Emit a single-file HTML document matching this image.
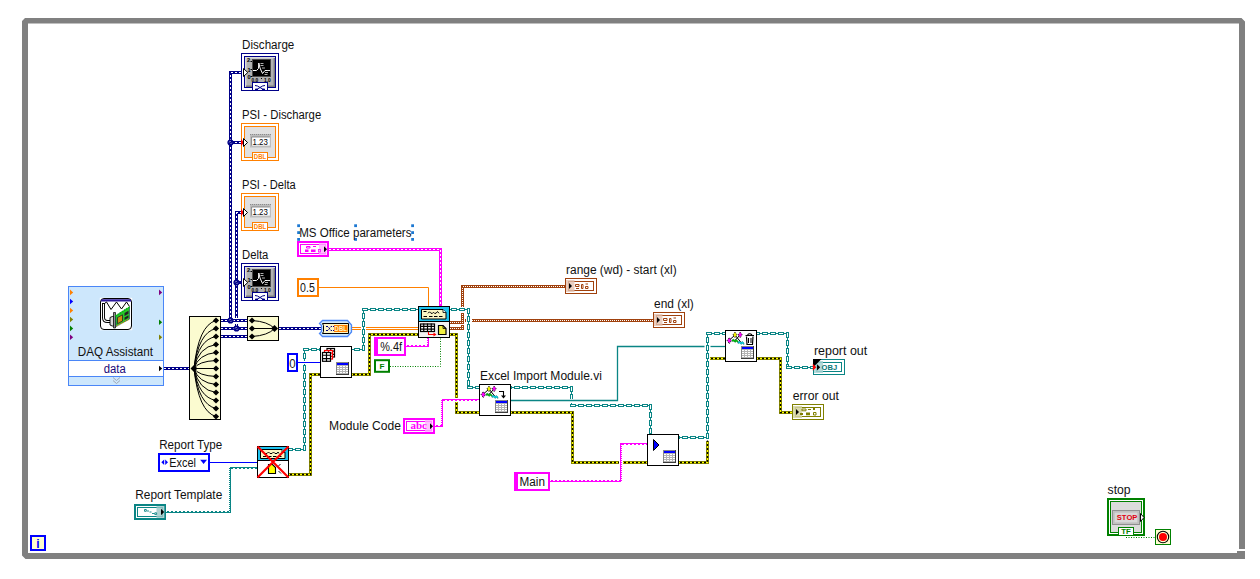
<!DOCTYPE html>
<html><head><meta charset="utf-8"><title>Block Diagram</title>
<style>
html,body{margin:0;padding:0;background:#fff;}
body{width:1260px;height:579px;overflow:hidden;font-family:"Liberation Sans",sans-serif;}
svg{display:block}
</style></head><body>
<svg width="1260" height="579" viewBox="0 0 1260 579">
<rect width="1260" height="579" fill="#fff"/>
<path d="M25,18 L1241.500,18 L1245,21.500 L1245,549 L1239,549 L1239,23.500 L28,23.500 L28,553 L1237,553 L1237,551 L1245,551 L1245,559 L25.500,559 L22,555.500 L22,21 Z" fill="#808080"/>
<polyline points="164,368.5 190,368.5" fill="none" stroke="#000088" stroke-width="3" shape-rendering="crispEdges"/>
<polyline points="164,368.5 190,368.5" fill="none" stroke="#fff" stroke-width="1" stroke-dasharray="2 2" stroke-dashoffset="0" shape-rendering="crispEdges"/>
<polyline points="221,320.5 247,320.5" fill="none" stroke="#000088" stroke-width="3" shape-rendering="crispEdges"/>
<polyline points="221,320.5 247,320.5" fill="none" stroke="#fff" stroke-width="1" stroke-dasharray="2 2" stroke-dashoffset="0" shape-rendering="crispEdges"/>
<polyline points="221,328.5 247,328.5" fill="none" stroke="#000088" stroke-width="3" shape-rendering="crispEdges"/>
<polyline points="221,328.5 247,328.5" fill="none" stroke="#fff" stroke-width="1" stroke-dasharray="2 2" stroke-dashoffset="0" shape-rendering="crispEdges"/>
<polyline points="221,336.5 247,336.5" fill="none" stroke="#000088" stroke-width="3" shape-rendering="crispEdges"/>
<polyline points="221,336.5 247,336.5" fill="none" stroke="#fff" stroke-width="1" stroke-dasharray="2 2" stroke-dashoffset="0" shape-rendering="crispEdges"/>
<polyline points="279,328.5 321,328.5" fill="none" stroke="#000088" stroke-width="3" shape-rendering="crispEdges"/>
<polyline points="279,328.5 321,328.5" fill="none" stroke="#fff" stroke-width="1" stroke-dasharray="2 2" stroke-dashoffset="0" shape-rendering="crispEdges"/>
<polyline points="230.5,320.5 230.5,72.5 244,72.5" fill="none" stroke="#000088" stroke-width="3" shape-rendering="crispEdges"/>
<polyline points="230.5,320.5 230.5,72.5 244,72.5" fill="none" stroke="#fff" stroke-width="1" stroke-dasharray="2 2" stroke-dashoffset="0" shape-rendering="crispEdges"/>
<polyline points="230.5,142.5 243,142.5" fill="none" stroke="#000088" stroke-width="3" shape-rendering="crispEdges"/>
<polyline points="230.5,142.5 243,142.5" fill="none" stroke="#fff" stroke-width="1" stroke-dasharray="2 2" stroke-dashoffset="0" shape-rendering="crispEdges"/>
<polyline points="236.5,317.5 236.5,212.5 243,212.5" fill="none" stroke="#000088" stroke-width="3" shape-rendering="crispEdges"/>
<polyline points="236.5,317.5 236.5,212.5 243,212.5" fill="none" stroke="#fff" stroke-width="1" stroke-dasharray="2 2" stroke-dashoffset="0" shape-rendering="crispEdges"/>
<polyline points="236.5,323.5 236.5,328.5" fill="none" stroke="#000088" stroke-width="3" shape-rendering="crispEdges"/>
<polyline points="236.5,323.5 236.5,328.5" fill="none" stroke="#fff" stroke-width="1" stroke-dasharray="2 2" stroke-dashoffset="0" shape-rendering="crispEdges"/>
<polyline points="236.5,282.5 244,282.5" fill="none" stroke="#000088" stroke-width="3" shape-rendering="crispEdges"/>
<polyline points="236.5,282.5 244,282.5" fill="none" stroke="#fff" stroke-width="1" stroke-dasharray="2 2" stroke-dashoffset="0" shape-rendering="crispEdges"/>
<circle cx="230.5" cy="142.5" r="3.1" fill="#000088"/><path d="M229.3,142.3 l1.200,-1.200 M230.8,143.7 l.9,-.9" stroke="#fff" stroke-width=".9"/>
<circle cx="230.5" cy="320.5" r="3.1" fill="#000088"/><path d="M229.3,320.3 l1.200,-1.200 M230.8,321.7 l.9,-.9" stroke="#fff" stroke-width=".9"/>
<circle cx="236.5" cy="282.5" r="3.1" fill="#000088"/><path d="M235.3,282.3 l1.200,-1.200 M236.8,283.7 l.9,-.9" stroke="#fff" stroke-width=".9"/>
<circle cx="236.5" cy="328.5" r="3.1" fill="#000088"/><path d="M235.3,328.3 l1.200,-1.200 M236.8,329.7 l.9,-.9" stroke="#fff" stroke-width=".9"/>
<polyline points="318,287.5 428.5,287.5 428.5,306" fill="none" stroke="#ff8000" stroke-width="1" />
<polyline points="352,327.5 361,327.5" fill="none" stroke="#ff8000" stroke-width="1" />
<polyline points="352,329.5 361,329.5" fill="none" stroke="#ff8000" stroke-width="1" />
<polyline points="366,327.5 418,327.5" fill="none" stroke="#ff8000" stroke-width="1" />
<polyline points="366,329.5 418,329.5" fill="none" stroke="#ff8000" stroke-width="1" />
<polyline points="329,249.5 440.5,249.5 440.5,306" fill="none" stroke="#ff00ff" stroke-width="3" shape-rendering="crispEdges"/>
<polyline points="329,249.5 440.5,249.5 440.5,306" fill="none" stroke="#fff" stroke-width="1" stroke-dasharray="2 2" stroke-dashoffset="0" shape-rendering="crispEdges"/>
<path d="M406,346.5H428M407,345.5h2M411,345.5h2M415,345.5h2M419,345.5h2M423,345.5h2M427,345.5h1M428.5,337V347M427.5,338v1M427.5,340v1M427.5,342v1M427.5,344v1" fill="none" stroke="#ff00ff" stroke-width="1" shape-rendering="crispEdges"/>
<path d="M435,426.5H442M436,425.5h2M440,425.5h2M442.5,399V427M441.5,400v1M441.5,402v1M441.5,404v1M441.5,406v1M441.5,408v1M441.5,410v1M441.5,412v1M441.5,414v1M441.5,416v1M441.5,418v1M441.5,420v1M441.5,422v1M441.5,424v1M442,399.5H479M443,400.5h2M447,400.5h2M451,400.5h2M455,400.5h2M459,400.5h2M463,400.5h2M467,400.5h2M471,400.5h2M475,400.5h2" fill="none" stroke="#ff00ff" stroke-width="1" shape-rendering="crispEdges"/>
<path d="M550,481.5H621M551,480.5h2M555,480.5h2M559,480.5h2M563,480.5h2M567,480.5h2M571,480.5h2M575,480.5h2M579,480.5h2M583,480.5h2M587,480.5h2M591,480.5h2M595,480.5h2M599,480.5h2M603,480.5h2M607,480.5h2M611,480.5h2M615,480.5h2M619,480.5h2M620.5,443V482M621.5,444v1M621.5,446v1M621.5,448v1M621.5,450v1M621.5,452v1M621.5,454v1M621.5,456v1M621.5,458v1M621.5,460v1M621.5,462v1M621.5,464v1M621.5,466v1M621.5,468v1M621.5,470v1M621.5,472v1M621.5,474v1M621.5,476v1M621.5,478v1M621.5,480v1M621,443.5H647M622,444.5h2M626,444.5h2M630,444.5h2M634,444.5h2M638,444.5h2M642,444.5h2M646,444.5h1" fill="none" stroke="#ff00ff" stroke-width="1" shape-rendering="crispEdges"/>
<path d="M166,512.5H230M167,511.5h2M171,511.5h2M175,511.5h2M179,511.5h2M183,511.5h2M187,511.5h2M191,511.5h2M195,511.5h2M199,511.5h2M203,511.5h2M207,511.5h2M211,511.5h2M215,511.5h2M219,511.5h2M223,511.5h2M227,511.5h2M230.5,467V513M229.5,468v1M229.5,470v1M229.5,472v1M229.5,474v1M229.5,476v1M229.5,478v1M229.5,480v1M229.5,482v1M229.5,484v1M229.5,486v1M229.5,488v1M229.5,490v1M229.5,492v1M229.5,494v1M229.5,496v1M229.5,498v1M229.5,500v1M229.5,502v1M229.5,504v1M229.5,506v1M229.5,508v1M229.5,510v1M230,467.5H257M231,468.5h2M235,468.5h2M239,468.5h2M243,468.5h2M247,468.5h2M251,468.5h2M255,468.5h2" fill="none" stroke="#0a8585" stroke-width="1" shape-rendering="crispEdges"/>
<polyline points="390,366.5 440.5,366.5 440.5,338" fill="none" stroke="#008000" stroke-width="1" stroke-dasharray="1 1.5" stroke-dashoffset="0" />
<polyline points="1126,537.5 1155,537.5" fill="none" stroke="#008000" stroke-width="1" stroke-dasharray="1 1.5" stroke-dashoffset="0" />
<polyline points="298,362.5 320,362.5" fill="none" stroke="#0000ff" stroke-width="1" />
<polyline points="210,462.5 257,462.5" fill="none" stroke="#0000ff" stroke-width="1" />
<polyline points="511,400.5 617.5,400.5 617.5,346.5 704.5,346.5" fill="none" stroke="#0a8585" stroke-width="1.3" />
<polyline points="710.5,346.5 725,346.5" fill="none" stroke="#0a8585" stroke-width="1.3" />
<polyline points="450,328.5 462.5,328.5 462.5,325" fill="none" stroke="#a0410d" stroke-width="3" shape-rendering="crispEdges"/>
<polyline points="450,328.5 462.5,328.5 462.5,325" fill="none" stroke="#fff" stroke-width="1" stroke-dasharray="1 1" stroke-dashoffset="0" shape-rendering="crispEdges"/>
<polyline points="450,322.5 462.5,322.5 462.5,312.5" fill="none" stroke="#a0410d" stroke-width="3" shape-rendering="crispEdges"/>
<polyline points="450,322.5 462.5,322.5 462.5,312.5" fill="none" stroke="#fff" stroke-width="1" stroke-dasharray="1 1" stroke-dashoffset="0" shape-rendering="crispEdges"/>
<polyline points="462.5,306.5 462.5,286.5 565,286.5" fill="none" stroke="#a0410d" stroke-width="3" shape-rendering="crispEdges"/>
<polyline points="462.5,306.5 462.5,286.5 565,286.5" fill="none" stroke="#fff" stroke-width="1" stroke-dasharray="1 1" stroke-dashoffset="0" shape-rendering="crispEdges"/>
<polyline points="471.5,320.5 653,320.5" fill="none" stroke="#a0410d" stroke-width="3" shape-rendering="crispEdges"/>
<polyline points="471.5,320.5 653,320.5" fill="none" stroke="#fff" stroke-width="1" stroke-dasharray="1 1" stroke-dashoffset="0" shape-rendering="crispEdges"/>
<polyline points="465.5,319 465.5,322" fill="none" stroke="#a0410d" stroke-width="1" />
<polyline points="289,474.5 310.5,474.5 310.5,374.5 320,374.5" fill="none" stroke="#8a8a00" stroke-width="3" shape-rendering="crispEdges"/>
<polyline points="289,474.5 310.5,474.5 310.5,374.5 320,374.5" fill="none" stroke="#000" stroke-width="1.3" />
<polyline points="289,474.5 310.5,474.5 310.5,374.5 320,374.5" fill="none" stroke="#ffff00" stroke-width="1.3" stroke-dasharray="2 2" stroke-dashoffset="1" />
<polyline points="352,374.5 369.5,374.5 369.5,334.5 418,334.5" fill="none" stroke="#8a8a00" stroke-width="3" shape-rendering="crispEdges"/>
<polyline points="352,374.5 369.5,374.5 369.5,334.5 418,334.5" fill="none" stroke="#000" stroke-width="1.3" />
<polyline points="352,374.5 369.5,374.5 369.5,334.5 418,334.5" fill="none" stroke="#ffff00" stroke-width="1.3" stroke-dasharray="2 2" stroke-dashoffset="1" />
<polyline points="450,334.5 456.5,334.5 456.5,397.5" fill="none" stroke="#8a8a00" stroke-width="3" shape-rendering="crispEdges"/>
<polyline points="450,334.5 456.5,334.5 456.5,397.5" fill="none" stroke="#000" stroke-width="1.3" />
<polyline points="450,334.5 456.5,334.5 456.5,397.5" fill="none" stroke="#ffff00" stroke-width="1.3" stroke-dasharray="2 2" stroke-dashoffset="1" />
<polyline points="456.5,402 456.5,412.5 479,412.5" fill="none" stroke="#8a8a00" stroke-width="3" shape-rendering="crispEdges"/>
<polyline points="456.5,402 456.5,412.5 479,412.5" fill="none" stroke="#000" stroke-width="1.3" />
<polyline points="456.5,402 456.5,412.5 479,412.5" fill="none" stroke="#ffff00" stroke-width="1.3" stroke-dasharray="2 2" stroke-dashoffset="1" />
<polyline points="511,412.5 572.5,412.5 572.5,462.5 619,462.5" fill="none" stroke="#8a8a00" stroke-width="3" shape-rendering="crispEdges"/>
<polyline points="511,412.5 572.5,412.5 572.5,462.5 619,462.5" fill="none" stroke="#000" stroke-width="1.3" />
<polyline points="511,412.5 572.5,412.5 572.5,462.5 619,462.5" fill="none" stroke="#ffff00" stroke-width="1.3" stroke-dasharray="2 2" stroke-dashoffset="1" />
<polyline points="623,462.5 647,462.5" fill="none" stroke="#8a8a00" stroke-width="3" shape-rendering="crispEdges"/>
<polyline points="623,462.5 647,462.5" fill="none" stroke="#000" stroke-width="1.3" />
<polyline points="623,462.5 647,462.5" fill="none" stroke="#ffff00" stroke-width="1.3" stroke-dasharray="2 2" stroke-dashoffset="1" />
<polyline points="679,462.5 707.5,462.5 707.5,440.5" fill="none" stroke="#8a8a00" stroke-width="3" shape-rendering="crispEdges"/>
<polyline points="679,462.5 707.5,462.5 707.5,440.5" fill="none" stroke="#000" stroke-width="1.3" />
<polyline points="679,462.5 707.5,462.5 707.5,440.5" fill="none" stroke="#ffff00" stroke-width="1.3" stroke-dasharray="2 2" stroke-dashoffset="1" />
<polyline points="710,358.5 725,358.5" fill="none" stroke="#8a8a00" stroke-width="3" shape-rendering="crispEdges"/>
<polyline points="710,358.5 725,358.5" fill="none" stroke="#000" stroke-width="1.3" />
<polyline points="710,358.5 725,358.5" fill="none" stroke="#ffff00" stroke-width="1.3" stroke-dasharray="2 2" stroke-dashoffset="1" />
<polyline points="757,358.5 780.5,358.5 780.5,412.5 792,412.5" fill="none" stroke="#8a8a00" stroke-width="3" shape-rendering="crispEdges"/>
<polyline points="757,358.5 780.5,358.5 780.5,412.5 792,412.5" fill="none" stroke="#000" stroke-width="1.3" />
<polyline points="757,358.5 780.5,358.5 780.5,412.5 792,412.5" fill="none" stroke="#ffff00" stroke-width="1.3" stroke-dasharray="2 2" stroke-dashoffset="1" />
<polyline points="289,449.5 303.0,449.5" fill="none" stroke="#0a8585" stroke-width="3" stroke-dasharray="6 2" stroke-dashoffset="2.0" shape-rendering="crispEdges"/>
<polyline points="289,449.5 303.0,449.5" fill="none" stroke="#0a8585" stroke-width="1" shape-rendering="crispEdges"/>
<polyline points="304.5,451.0 304.5,364" fill="none" stroke="#0a8585" stroke-width="3" stroke-dasharray="6 2" stroke-dashoffset="0" shape-rendering="crispEdges"/>
<polyline points="304.5,451.0 304.5,364" fill="none" stroke="#0a8585" stroke-width="1" shape-rendering="crispEdges"/>
<polyline points="289,449.5 303.0,449.5" fill="none" stroke="#fff" stroke-width="1" stroke-dasharray="4 4" stroke-dashoffset="1.0" shape-rendering="crispEdges"/>
<polyline points="304.5,451.0 304.5,364" fill="none" stroke="#fff" stroke-width="1" stroke-dasharray="4 4" stroke-dashoffset="-1" shape-rendering="crispEdges"/>
<polyline points="304.5,361 304.5,351.0" fill="none" stroke="#0a8585" stroke-width="3" stroke-dasharray="6 2" stroke-dashoffset="6.0" shape-rendering="crispEdges"/>
<polyline points="304.5,361 304.5,351.0" fill="none" stroke="#0a8585" stroke-width="1" shape-rendering="crispEdges"/>
<polyline points="303.0,349.5 320,349.5" fill="none" stroke="#0a8585" stroke-width="3" stroke-dasharray="6 2" stroke-dashoffset="0" shape-rendering="crispEdges"/>
<polyline points="303.0,349.5 320,349.5" fill="none" stroke="#0a8585" stroke-width="1" shape-rendering="crispEdges"/>
<polyline points="304.5,361 304.5,351.0" fill="none" stroke="#fff" stroke-width="1" stroke-dasharray="4 4" stroke-dashoffset="5.0" shape-rendering="crispEdges"/>
<polyline points="303.0,349.5 320,349.5" fill="none" stroke="#fff" stroke-width="1" stroke-dasharray="4 4" stroke-dashoffset="-1" shape-rendering="crispEdges"/>
<polyline points="352,349.5 362.0,349.5" fill="none" stroke="#0a8585" stroke-width="3" stroke-dasharray="6 2" stroke-dashoffset="6.0" shape-rendering="crispEdges"/>
<polyline points="352,349.5 362.0,349.5" fill="none" stroke="#0a8585" stroke-width="1" shape-rendering="crispEdges"/>
<polyline points="363.5,351.0 363.5,311.0" fill="none" stroke="#0a8585" stroke-width="3" stroke-dasharray="6 2" stroke-dashoffset="0" shape-rendering="crispEdges"/>
<polyline points="363.5,351.0 363.5,311.0" fill="none" stroke="#0a8585" stroke-width="1" shape-rendering="crispEdges"/>
<polyline points="362.0,309.5 418,309.5" fill="none" stroke="#0a8585" stroke-width="3" stroke-dasharray="6 2" stroke-dashoffset="0" shape-rendering="crispEdges"/>
<polyline points="362.0,309.5 418,309.5" fill="none" stroke="#0a8585" stroke-width="1" shape-rendering="crispEdges"/>
<polyline points="352,349.5 362.0,349.5" fill="none" stroke="#fff" stroke-width="1" stroke-dasharray="4 4" stroke-dashoffset="5.0" shape-rendering="crispEdges"/>
<polyline points="363.5,351.0 363.5,311.0" fill="none" stroke="#fff" stroke-width="1" stroke-dasharray="4 4" stroke-dashoffset="-1" shape-rendering="crispEdges"/>
<polyline points="362.0,309.5 418,309.5" fill="none" stroke="#fff" stroke-width="1" stroke-dasharray="4 4" stroke-dashoffset="-1" shape-rendering="crispEdges"/>
<polyline points="450,309.5 467.0,309.5" fill="none" stroke="#0a8585" stroke-width="3" stroke-dasharray="6 2" stroke-dashoffset="7.0" shape-rendering="crispEdges"/>
<polyline points="450,309.5 467.0,309.5" fill="none" stroke="#0a8585" stroke-width="1" shape-rendering="crispEdges"/>
<polyline points="468.5,308.0 468.5,386.0" fill="none" stroke="#0a8585" stroke-width="3" stroke-dasharray="6 2" stroke-dashoffset="0" shape-rendering="crispEdges"/>
<polyline points="468.5,308.0 468.5,386.0" fill="none" stroke="#0a8585" stroke-width="1" shape-rendering="crispEdges"/>
<polyline points="467.0,387.5 479,387.5" fill="none" stroke="#0a8585" stroke-width="3" stroke-dasharray="6 2" stroke-dashoffset="0" shape-rendering="crispEdges"/>
<polyline points="467.0,387.5 479,387.5" fill="none" stroke="#0a8585" stroke-width="1" shape-rendering="crispEdges"/>
<polyline points="450,309.5 467.0,309.5" fill="none" stroke="#fff" stroke-width="1" stroke-dasharray="4 4" stroke-dashoffset="6.0" shape-rendering="crispEdges"/>
<polyline points="468.5,308.0 468.5,386.0" fill="none" stroke="#fff" stroke-width="1" stroke-dasharray="4 4" stroke-dashoffset="-1" shape-rendering="crispEdges"/>
<polyline points="467.0,387.5 479,387.5" fill="none" stroke="#fff" stroke-width="1" stroke-dasharray="4 4" stroke-dashoffset="-1" shape-rendering="crispEdges"/>
<polyline points="511,387.5 570.0,387.5" fill="none" stroke="#0a8585" stroke-width="3" stroke-dasharray="6 2" stroke-dashoffset="5.0" shape-rendering="crispEdges"/>
<polyline points="511,387.5 570.0,387.5" fill="none" stroke="#0a8585" stroke-width="1" shape-rendering="crispEdges"/>
<polyline points="571.5,386.0 571.5,398.5" fill="none" stroke="#0a8585" stroke-width="3" stroke-dasharray="6 2" stroke-dashoffset="0" shape-rendering="crispEdges"/>
<polyline points="571.5,386.0 571.5,398.5" fill="none" stroke="#0a8585" stroke-width="1" shape-rendering="crispEdges"/>
<polyline points="511,387.5 570.0,387.5" fill="none" stroke="#fff" stroke-width="1" stroke-dasharray="4 4" stroke-dashoffset="4.0" shape-rendering="crispEdges"/>
<polyline points="571.5,386.0 571.5,398.5" fill="none" stroke="#fff" stroke-width="1" stroke-dasharray="4 4" stroke-dashoffset="-1" shape-rendering="crispEdges"/>
<polyline points="571.5,402.5 571.5,404.0" fill="none" stroke="#0a8585" stroke-width="3" stroke-dasharray="6 2" stroke-dashoffset="6.5" shape-rendering="crispEdges"/>
<polyline points="571.5,402.5 571.5,404.0" fill="none" stroke="#0a8585" stroke-width="1" shape-rendering="crispEdges"/>
<polyline points="570.0,405.5 649.0,405.5" fill="none" stroke="#0a8585" stroke-width="3" stroke-dasharray="6 2" stroke-dashoffset="0" shape-rendering="crispEdges"/>
<polyline points="570.0,405.5 649.0,405.5" fill="none" stroke="#0a8585" stroke-width="1" shape-rendering="crispEdges"/>
<polyline points="650.5,404.0 650.5,434" fill="none" stroke="#0a8585" stroke-width="3" stroke-dasharray="6 2" stroke-dashoffset="0" shape-rendering="crispEdges"/>
<polyline points="650.5,404.0 650.5,434" fill="none" stroke="#0a8585" stroke-width="1" shape-rendering="crispEdges"/>
<polyline points="571.5,402.5 571.5,404.0" fill="none" stroke="#fff" stroke-width="1" stroke-dasharray="4 4" stroke-dashoffset="5.5" shape-rendering="crispEdges"/>
<polyline points="570.0,405.5 649.0,405.5" fill="none" stroke="#fff" stroke-width="1" stroke-dasharray="4 4" stroke-dashoffset="-1" shape-rendering="crispEdges"/>
<polyline points="650.5,404.0 650.5,434" fill="none" stroke="#fff" stroke-width="1" stroke-dasharray="4 4" stroke-dashoffset="-1" shape-rendering="crispEdges"/>
<polyline points="679,437.5 706.0,437.5" fill="none" stroke="#0a8585" stroke-width="3" stroke-dasharray="6 2" stroke-dashoffset="5.0" shape-rendering="crispEdges"/>
<polyline points="679,437.5 706.0,437.5" fill="none" stroke="#0a8585" stroke-width="1" shape-rendering="crispEdges"/>
<polyline points="707.5,439.0 707.5,335.0" fill="none" stroke="#0a8585" stroke-width="3" stroke-dasharray="6 2" stroke-dashoffset="0" shape-rendering="crispEdges"/>
<polyline points="707.5,439.0 707.5,335.0" fill="none" stroke="#0a8585" stroke-width="1" shape-rendering="crispEdges"/>
<polyline points="706.0,333.5 725,333.5" fill="none" stroke="#0a8585" stroke-width="3" stroke-dasharray="6 2" stroke-dashoffset="0" shape-rendering="crispEdges"/>
<polyline points="706.0,333.5 725,333.5" fill="none" stroke="#0a8585" stroke-width="1" shape-rendering="crispEdges"/>
<polyline points="679,437.5 706.0,437.5" fill="none" stroke="#fff" stroke-width="1" stroke-dasharray="4 4" stroke-dashoffset="4.0" shape-rendering="crispEdges"/>
<polyline points="707.5,439.0 707.5,335.0" fill="none" stroke="#fff" stroke-width="1" stroke-dasharray="4 4" stroke-dashoffset="-1" shape-rendering="crispEdges"/>
<polyline points="706.0,333.5 725,333.5" fill="none" stroke="#fff" stroke-width="1" stroke-dasharray="4 4" stroke-dashoffset="-1" shape-rendering="crispEdges"/>
<polyline points="757,333.5 786.0,333.5" fill="none" stroke="#0a8585" stroke-width="3" stroke-dasharray="6 2" stroke-dashoffset="3.0" shape-rendering="crispEdges"/>
<polyline points="757,333.5 786.0,333.5" fill="none" stroke="#0a8585" stroke-width="1" shape-rendering="crispEdges"/>
<polyline points="787.5,332.0 787.5,366.0" fill="none" stroke="#0a8585" stroke-width="3" stroke-dasharray="6 2" stroke-dashoffset="0" shape-rendering="crispEdges"/>
<polyline points="787.5,332.0 787.5,366.0" fill="none" stroke="#0a8585" stroke-width="1" shape-rendering="crispEdges"/>
<polyline points="786.0,367.5 813,367.5" fill="none" stroke="#0a8585" stroke-width="3" stroke-dasharray="6 2" stroke-dashoffset="0" shape-rendering="crispEdges"/>
<polyline points="786.0,367.5 813,367.5" fill="none" stroke="#0a8585" stroke-width="1" shape-rendering="crispEdges"/>
<polyline points="757,333.5 786.0,333.5" fill="none" stroke="#fff" stroke-width="1" stroke-dasharray="4 4" stroke-dashoffset="2.0" shape-rendering="crispEdges"/>
<polyline points="787.5,332.0 787.5,366.0" fill="none" stroke="#fff" stroke-width="1" stroke-dasharray="4 4" stroke-dashoffset="-1" shape-rendering="crispEdges"/>
<polyline points="786.0,367.5 813,367.5" fill="none" stroke="#fff" stroke-width="1" stroke-dasharray="4 4" stroke-dashoffset="-1" shape-rendering="crispEdges"/>
<rect x="297.2" y="224.3" width="2.8" height="2.8" fill="#1c78d2" stroke="none" stroke-width="1" />
<rect x="297.2" y="238" width="2.8" height="2.8" fill="#1c78d2" stroke="none" stroke-width="1" />
<rect x="354.2" y="224.3" width="2.8" height="2.8" fill="#1c78d2" stroke="none" stroke-width="1" />
<rect x="354.2" y="238" width="2.8" height="2.8" fill="#1c78d2" stroke="none" stroke-width="1" />
<rect x="411.2" y="224.3" width="2.8" height="2.8" fill="#1c78d2" stroke="none" stroke-width="1" />
<rect x="411.2" y="238" width="2.8" height="2.8" fill="#1c78d2" stroke="none" stroke-width="1" />
<rect x="297.2" y="231.2" width="2.8" height="2.8" fill="#1c78d2" stroke="none" stroke-width="1" />
<rect x="411.2" y="231.2" width="2.8" height="2.8" fill="#1c78d2" stroke="none" stroke-width="1" />
<rect x="241.5" y="53.5" width="37" height="37" fill="#fff" stroke="#000088" stroke-width="1" />
<rect x="245" y="57" width="30" height="30" fill="#b2b2b2" stroke="none" stroke-width="1" />
<path d="M245.7,87 V57.7 H275" fill="none" stroke="#dcdcdc" stroke-width="1.4"/>
<path d="M274.3,58 V86.3 H246" fill="none" stroke="#7c7c7c" stroke-width="1.4"/>
<rect x="244.5" y="56.5" width="31" height="31" fill="none" stroke="#000088" stroke-width="1" />
<rect x="252.5" y="59.5" width="18" height="17" fill="#000" stroke="#4a4a4a" stroke-width="1" />
<path d="M253,70.5 H256.5 L258.5,68.5 L258.8,63 L260,68 L262.5,73.5 L265,70.5 H270" fill="none" stroke="#fff" stroke-width="1"/>
<path d="M260.5,63.5 h3 M260.5,65.5 h3 M262,68 h3 M267,70.5 h3 M265,72.5 h3 M264.5,74.5 h3" stroke="#ddd" stroke-width=".8"/>
<text x="247" y="62.2" font-family="'Liberation Sans', sans-serif" font-size="5.6" font-weight="bold" fill="#000" text-anchor="start" >2</text>
<text x="247.6" y="71.7" font-family="'Liberation Sans', sans-serif" font-size="5.6" font-weight="bold" fill="#000" text-anchor="start" >1</text>
<text x="247.6" y="78.9" font-family="'Liberation Sans', sans-serif" font-size="5.6" font-weight="bold" fill="#000" text-anchor="start" >0</text>
<text x="251.5" y="82.2" font-family="'Liberation Sans', sans-serif" font-size="5.4" font-weight="bold" fill="#000" text-anchor="start" textLength="6.8" lengthAdjust="spacingAndGlyphs" >0.0</text>
<text x="264" y="82.2" font-family="'Liberation Sans', sans-serif" font-size="5.4" font-weight="bold" fill="#000" text-anchor="start" textLength="6.8" lengthAdjust="spacingAndGlyphs" >1.0</text>
<path d="M250.5,61.5 h1.5 M250.5,69.5 h1.5 M250.5,76.5 h1.5 M261.5,78 v1" stroke="#000" stroke-width="1"/>
<rect x="252.5" y="82.5" width="15" height="8" fill="#fff" stroke="#000088" stroke-width="1" />
<path d="M255,85.5 q2.5,0 5,2 t5,2 M255,89.5 q2.5,0 5,-2 t5,-2" fill="none" stroke="#000088" stroke-width="1"/>
<rect x="255" y="88.8" width="3" height="1.7" fill="#000088" stroke="none" stroke-width="1" />
<rect x="262" y="88.8" width="3" height="1.7" fill="#000088" stroke="none" stroke-width="1" />
<path d="M243.5,68.5 L247.8,72.5 L243.5,76.5 Z" fill="#fff" stroke="#000" stroke-width="1"/>
<rect x="241.5" y="263.5" width="37" height="37" fill="#fff" stroke="#000088" stroke-width="1" />
<rect x="245" y="267" width="30" height="30" fill="#b2b2b2" stroke="none" stroke-width="1" />
<path d="M245.7,297 V267.7 H275" fill="none" stroke="#dcdcdc" stroke-width="1.4"/>
<path d="M274.3,268 V296.3 H246" fill="none" stroke="#7c7c7c" stroke-width="1.4"/>
<rect x="244.5" y="266.5" width="31" height="31" fill="none" stroke="#000088" stroke-width="1" />
<rect x="252.5" y="269.5" width="18" height="17" fill="#000" stroke="#4a4a4a" stroke-width="1" />
<path d="M253,280.5 H256.5 L258.5,278.5 L258.8,273 L260,278 L262.5,283.5 L265,280.5 H270" fill="none" stroke="#fff" stroke-width="1"/>
<path d="M260.5,273.5 h3 M260.5,275.5 h3 M262,278 h3 M267,280.5 h3 M265,282.5 h3 M264.5,284.5 h3" stroke="#ddd" stroke-width=".8"/>
<text x="247" y="272.2" font-family="'Liberation Sans', sans-serif" font-size="5.6" font-weight="bold" fill="#000" text-anchor="start" >2</text>
<text x="247.6" y="281.7" font-family="'Liberation Sans', sans-serif" font-size="5.6" font-weight="bold" fill="#000" text-anchor="start" >1</text>
<text x="247.6" y="288.9" font-family="'Liberation Sans', sans-serif" font-size="5.6" font-weight="bold" fill="#000" text-anchor="start" >0</text>
<text x="251.5" y="292.2" font-family="'Liberation Sans', sans-serif" font-size="5.4" font-weight="bold" fill="#000" text-anchor="start" textLength="6.8" lengthAdjust="spacingAndGlyphs" >0.0</text>
<text x="264" y="292.2" font-family="'Liberation Sans', sans-serif" font-size="5.4" font-weight="bold" fill="#000" text-anchor="start" textLength="6.8" lengthAdjust="spacingAndGlyphs" >1.0</text>
<path d="M250.5,271.5 h1.5 M250.5,279.5 h1.5 M250.5,286.5 h1.5 M261.5,288 v1" stroke="#000" stroke-width="1"/>
<rect x="252.5" y="292.5" width="15" height="8" fill="#fff" stroke="#000088" stroke-width="1" />
<path d="M255,295.5 q2.5,0 5,2 t5,2 M255,299.5 q2.5,0 5,-2 t5,-2" fill="none" stroke="#000088" stroke-width="1"/>
<rect x="255" y="298.8" width="3" height="1.7" fill="#000088" stroke="none" stroke-width="1" />
<rect x="262" y="298.8" width="3" height="1.7" fill="#000088" stroke="none" stroke-width="1" />
<path d="M243.5,278.5 L247.8,282.5 L243.5,286.5 Z" fill="#fff" stroke="#000" stroke-width="1"/>
<rect x="241.5" y="123.5" width="37" height="37" fill="#fff" stroke="#ff8000" stroke-width="1" />
<rect x="244.5" y="126.5" width="31" height="31" fill="#e0e0e0" stroke="#ff8000" stroke-width="1" />
<rect x="250" y="134" width="21" height="13.5" fill="#bdbdbd" stroke="none" stroke-width="1" />
<path d="M250,134.5 h21" stroke="#8c8c8c" stroke-width="1" stroke-dasharray="1 1"/>
<rect x="251.6" y="137" width="18.2" height="8.6" fill="#fff" stroke="none" stroke-width="1" />
<path d="M251.6,145.6 v-8.600 h18.200" stroke="#7a7a7a" stroke-width=".8" fill="none"/>
<text x="252.6" y="145" font-family="'Liberation Sans', sans-serif" font-size="9.3" font-weight="normal" fill="#000" text-anchor="start" textLength="15.2" lengthAdjust="spacingAndGlyphs" >1.23</text>
<rect x="252.5" y="152.5" width="15" height="8" fill="#fff" stroke="#ff8000" stroke-width="1" />
<text x="253.8" y="159.3" font-family="'Liberation Sans', sans-serif" font-size="6.5" font-weight="bold" fill="#ff8000" text-anchor="start" textLength="12.4" lengthAdjust="spacingAndGlyphs" >DBL</text>
<path d="M241,139 L244.3,142.5 L241,146 z" fill="#f00"/>
<path d="M243.5,138.5 L247.5,142.5 L243.5,146.5 Z" fill="#fff" stroke="#000" stroke-width="1"/>
<rect x="241.5" y="193.5" width="37" height="37" fill="#fff" stroke="#ff8000" stroke-width="1" />
<rect x="244.5" y="196.5" width="31" height="31" fill="#e0e0e0" stroke="#ff8000" stroke-width="1" />
<rect x="250" y="204" width="21" height="13.5" fill="#bdbdbd" stroke="none" stroke-width="1" />
<path d="M250,204.5 h21" stroke="#8c8c8c" stroke-width="1" stroke-dasharray="1 1"/>
<rect x="251.6" y="207" width="18.2" height="8.6" fill="#fff" stroke="none" stroke-width="1" />
<path d="M251.6,215.6 v-8.600 h18.200" stroke="#7a7a7a" stroke-width=".8" fill="none"/>
<text x="252.6" y="215" font-family="'Liberation Sans', sans-serif" font-size="9.3" font-weight="normal" fill="#000" text-anchor="start" textLength="15.2" lengthAdjust="spacingAndGlyphs" >1.23</text>
<rect x="252.5" y="222.5" width="15" height="8" fill="#fff" stroke="#ff8000" stroke-width="1" />
<text x="253.8" y="229.3" font-family="'Liberation Sans', sans-serif" font-size="6.5" font-weight="bold" fill="#ff8000" text-anchor="start" textLength="12.4" lengthAdjust="spacingAndGlyphs" >DBL</text>
<path d="M241,209 L244.3,212.5 L241,216 z" fill="#f00"/>
<path d="M243.5,208.5 L247.5,212.5 L243.5,216.5 Z" fill="#fff" stroke="#000" stroke-width="1"/>
<rect x="298" y="242" width="30" height="14" fill="#fff" stroke="#ff00ff" stroke-width="2" />
<rect x="300.5" y="244.5" width="25" height="9" fill="#fff" stroke="#ff00ff" stroke-width="1" />
<rect x="319" y="243" width="7.5" height="12" fill="#ffb0ff" opacity=".8"/>
<path d="M306.5,246.5 h3.5 v1.500 h-3.5 z M313,246.5 h3" stroke="#ff00ff" stroke-width="1" fill="none"/>
<path d="M305,249.500 h3.500 v2.500 h-3.500 z M311,249.500 h4.500 v2.500 h-4.500 z" fill="#ff00ff"/>
<rect x="318.5" y="249.500" width="2" height="2.500" fill="none" stroke="#ff00ff" stroke-width=".8"/>
<path d="M324,246.300 L327,249.300 L324,252.300 Z" fill="#000"/>
<rect x="298" y="279" width="20" height="17" fill="#fff" stroke="#ff8000" stroke-width="2" />
<text x="300.1" y="292.1" font-family="'Liberation Sans', sans-serif" font-size="12.3" font-weight="normal" fill="#111" text-anchor="start" textLength="14.7" lengthAdjust="spacingAndGlyphs" >0.5</text>
<rect x="68.5" y="286.5" width="95" height="99" fill="#cde7fc" stroke="#4a86f7" stroke-width="1" />
<rect x="69" y="361" width="94" height="15" fill="#fff" stroke="none" stroke-width="1" />
<polyline points="68,360.5 164,360.5" fill="none" stroke="#4a86f7" stroke-width="1" />
<polyline points="68,376.5 164,376.5" fill="none" stroke="#4a86f7" stroke-width="1" />
<path d="M70,289.59999999999997 L73.2,292.4 L70,295.2 Z" fill="#ff8000"/>
<path d="M70,298.7 L73.2,301.5 L70,304.3 Z" fill="#0000ff"/>
<path d="M70,307.7 L73.2,310.5 L70,313.3 Z" fill="#ff8000"/>
<path d="M70,316.7 L73.2,319.5 L70,322.3 Z" fill="#808000"/>
<path d="M70,325.59999999999997 L73.2,328.4 L70,331.2 Z" fill="#008000"/>
<path d="M70,334.5 L73.2,337.3 L70,340.1 Z" fill="#800080"/>
<path d="M159,289.59999999999997 L162.2,292.4 L159,295.2 Z" fill="#800080"/>
<path d="M159,319.5 L162.2,322.3 L159,325.1 Z" fill="#008000"/>
<path d="M159,334.5 L162.2,337.3 L159,340.1 Z" fill="#808000"/>
<path d="M159,365.7 L162.2,368.5 L159,371.3 Z" fill="#000"/>
<text x="103.7" y="372.5" font-family="'Liberation Sans', sans-serif" font-size="12.3" font-weight="normal" fill="#1a0a7a" text-anchor="start" textLength="22" lengthAdjust="spacingAndGlyphs" >data</text>
<path d="M113,377.5 l3.5,3 l3.5,-3 M113,380.5 l3.5,3 l3.5,-3" fill="none" stroke="#a0a8b4" stroke-width="1"/>
<rect x="99.8" y="297.800" width="32.400" height="32.400" fill="#fff"/>
<rect x="100.5" y="298.5" width="31" height="31" rx="3.5" fill="#fff" stroke="#000"/>
<path d="M102,299.3 h28 q1.2,.5 1.2,2.2 h-30.4 q0,-1.7 1.2,-2.2 z" fill="#2b189c"/>
<path d="M102,303.5 h2.5 l2,-1.5 l4.5,7.5 l5.5,-7.5 l5,7 l5,-7 l3,4.5" fill="none" stroke="#000" stroke-width="1"/>
<path d="M103.5,303 v14.500 q0,4 4,4 h4" fill="none" stroke="#000" stroke-width="3"/>
<path d="M103.5,304 v13.500 q0,4 4,4 h4" fill="none" stroke="#fff" stroke-width="1.1"/>
<path d="M110,317.5 q2.5,-1.5 4,-1 v9.5 q-1.5,.5 -4,-1 z" fill="#d8d8d8" stroke="#000" stroke-width=".9"/>
<path d="M113.5,312.5 h2 v15.5 h-2 z" fill="#909090" stroke="#000" stroke-width=".7"/>
<path d="M115.5,316 L129.5,307 V319 L116,326.5 Z" fill="#27c72a" stroke="#135" stroke-width=".6"/>
<path d="M115.5,316 L129.5,307" stroke="#0c0" stroke-dasharray="1.5 1" stroke-width="1.6" fill="none"/>
<path d="M117.5,317.5 l5,-2.7 v6.2 l-5,2.7 z" fill="#c89010" stroke="#222" stroke-width=".8"/>
<path d="M124.5,313 l4,-2.2 v3 l-4,2.2 z M124.5,317.5 l4,-2.2 v2.4 l-4,2.2 z" fill="#222"/>
<path d="M116.5,326 L129.5,319" stroke="#c8a020" stroke-dasharray="1.2 1.2" stroke-width="1.4"/>
<rect x="189.5" y="316.5" width="31" height="103" fill="#fbfbd0" stroke="#000" stroke-width="1" />
<path d="M212.9,320.5 L216,317.4 L219.1,320.5 L216,323.6 Z" fill="#000"/>
<path d="M194,368.5 Q198.5,325.3 216,320.5" fill="none" stroke="#000" stroke-width="1"/>
<path d="M212.9,328.5 L216,325.4 L219.1,328.5 L216,331.6 Z" fill="#000"/>
<path d="M194,368.5 Q198.5,332.5 216,328.5" fill="none" stroke="#000" stroke-width="1"/>
<path d="M212.9,336.5 L216,333.4 L219.1,336.5 L216,339.6 Z" fill="#000"/>
<path d="M194,368.5 Q198.5,339.7 216,336.5" fill="none" stroke="#000" stroke-width="1"/>
<path d="M212.9,344.5 L216,341.4 L219.1,344.5 L216,347.6 Z" fill="#000"/>
<path d="M194,368.5 Q198.5,346.9 216,344.5" fill="none" stroke="#000" stroke-width="1"/>
<path d="M212.9,352.5 L216,349.4 L219.1,352.5 L216,355.6 Z" fill="#000"/>
<path d="M194,368.5 Q198.5,354.1 216,352.5" fill="none" stroke="#000" stroke-width="1"/>
<path d="M212.9,360.5 L216,357.4 L219.1,360.5 L216,363.6 Z" fill="#000"/>
<path d="M194,368.5 Q198.5,361.3 216,360.5" fill="none" stroke="#000" stroke-width="1"/>
<path d="M212.9,368.5 L216,365.4 L219.1,368.5 L216,371.6 Z" fill="#000"/>
<path d="M194,368.5 H216" stroke="#000"/>
<path d="M212.9,376.5 L216,373.4 L219.1,376.5 L216,379.6 Z" fill="#000"/>
<path d="M194,368.5 Q198.5,375.7 216,376.5" fill="none" stroke="#000" stroke-width="1"/>
<path d="M212.9,384.5 L216,381.4 L219.1,384.5 L216,387.6 Z" fill="#000"/>
<path d="M194,368.5 Q198.5,382.9 216,384.5" fill="none" stroke="#000" stroke-width="1"/>
<path d="M212.9,392.5 L216,389.4 L219.1,392.5 L216,395.6 Z" fill="#000"/>
<path d="M194,368.5 Q198.5,390.1 216,392.5" fill="none" stroke="#000" stroke-width="1"/>
<path d="M212.9,400.5 L216,397.4 L219.1,400.5 L216,403.6 Z" fill="#000"/>
<path d="M194,368.5 Q198.5,397.3 216,400.5" fill="none" stroke="#000" stroke-width="1"/>
<path d="M212.9,408.5 L216,405.4 L219.1,408.5 L216,411.6 Z" fill="#000"/>
<path d="M194,368.5 Q198.5,404.5 216,408.5" fill="none" stroke="#000" stroke-width="1"/>
<path d="M212.9,416.5 L216,413.4 L219.1,416.5 L216,419.6 Z" fill="#000"/>
<path d="M194,368.5 Q198.5,411.7 216,416.5" fill="none" stroke="#000" stroke-width="1"/>
<path d="M190.5,368.5 L194,365.0 L197.5,368.5 L194,372.0 Z" fill="#000"/>
<rect x="247.5" y="316.5" width="31" height="24" fill="#fbfbd0" stroke="#000" stroke-width="1" />
<path d="M248.9,320.5 L252,317.4 L255.1,320.5 L252,323.6 Z" fill="#000"/>
<path d="M248.9,328.5 L252,325.4 L255.1,328.5 L252,331.6 Z" fill="#000"/>
<path d="M248.9,336.5 L252,333.4 L255.1,336.5 L252,339.6 Z" fill="#000"/>
<path d="M271.0,328.5 L274.5,325.0 L278.0,328.5 L274.5,332.0 Z" fill="#000"/>
<path d="M252,320.5 Q268,321.5 274.5,328.5 M252,328.5 H274.5 M252,336.5 Q268,335.5 274.5,328.5" fill="none" stroke="#000"/>
<path d="M322.5,320.5 H347.5 L351.5,325 V332 L347.5,336.5 H322.5 L319.5,333.5 L321.5,331.5 V325.5 L319.5,323.5 Z" fill="#cfeafc" stroke="#4a86f7" stroke-width="1.3"/>
<path d="M322.5,323.5 H348.5 V333.5 H322.5 L323.5,331.5 V325.5 Z" fill="#fbf6c8" stroke="#000" stroke-width="1"/>
<path d="M326,326.5 h2 l3,4 h3 M326,330.5 h2 l3,-4 h3" fill="none" stroke="#000088" stroke-width="1" stroke-dasharray="2 1"/>
<rect x="334" y="325" width="13.5" height="7" fill="#ff8000" stroke="none" stroke-width="1" />
<text x="334.6" y="331.2" font-family="'Liberation Sans', sans-serif" font-size="6.5" font-weight="bold" fill="#fbf6c8" text-anchor="start" textLength="12.2" lengthAdjust="spacingAndGlyphs" >DBL</text>
<rect x="320.5" y="346.5" width="31" height="31" fill="#fff" stroke="#000" stroke-width="1" />
<rect x="327.0" y="348.5" width="7.5" height="8.5" fill="#fff" stroke="#000" stroke-width="1.2" />
<path d="M330.75,348 v9.5 M326.5,351.1666666666667 h8.5 M326.5,354.3333333333333 h8.5 " stroke="#000" stroke-width="1.2"/>
<rect x="324.5" y="350.5" width="8" height="8.5" fill="#fff" stroke="#f00" stroke-width="1.2" />
<path d="M328.5,350 v9.5 M324,353.1666666666667 h9 M324,356.3333333333333 h9 " stroke="#f00" stroke-width="1.2"/>
<rect x="322.5" y="352.5" width="8" height="8.8" fill="#fff" stroke="#000" stroke-width="1.2" />
<path d="M326.5,352 v9.8 M322,355.26666666666665 h9 M322,358.53333333333336 h9 " stroke="#000" stroke-width="1.2"/>
<g shape-rendering="crispEdges">
<rect x="336" y="362" width="13" height="13" fill="#868686" stroke="none" stroke-width="1" />
<rect x="348" y="362" width="1" height="13" fill="#3c3c3c" stroke="none" stroke-width="1" />
<rect x="336" y="374" width="13" height="1" fill="#3c3c3c" stroke="none" stroke-width="1" />
<rect x="337" y="363" width="11" height="11" fill="#b4b4b4" stroke="none" stroke-width="1" />
<rect x="337" y="363" width="11" height="2" fill="#0000ff" stroke="none" stroke-width="1" />
<path d="M337,366h2v1h-2zM340,366h2v1h-2zM343,366h2v1h-2zM346,366h2v1h-2zM337,368h2v1h-2zM340,368h2v1h-2zM343,368h2v1h-2zM346,368h2v1h-2zM337,370h2v1h-2zM340,370h2v1h-2zM343,370h2v1h-2zM346,370h2v1h-2zM337,372h2v1h-2zM340,372h2v1h-2zM343,372h2v1h-2zM346,372h2v1h-2z" fill="#fff"/>
</g>
<rect x="288" y="354" width="9" height="17" fill="#fff" stroke="#0000ff" stroke-width="2" />
<text x="289.3" y="367.7" font-family="'Liberation Sans', sans-serif" font-size="12.3" font-weight="normal" fill="#222" text-anchor="start" textLength="6.4" lengthAdjust="spacingAndGlyphs" >0</text>
<rect x="418.5" y="306.5" width="31" height="31" fill="#f2f2f2" stroke="#000" stroke-width="1" />
<rect x="419" y="307" width="30" height="14.3" fill="#1ec3ef" stroke="none" stroke-width="1" />
<polyline points="418,321.5 450,321.5" fill="none" stroke="#000" stroke-width="1" />
<path d="M421.5,309.5 H443.0 L446.0,312.5 V319.0 H421.5 Z" fill="#fbf6c4" stroke="#000" stroke-width="1"/>
<path d="M443.0,309.5 V312.5 H446.0" fill="#fff" stroke="#000" stroke-width=".8"/>
<path d="M423.5,311.5 h3 M428,313.3 l1.5,-1.5 l1.5,1.5 h1.5 l1,-1 l1,1 h1.5 l1.5,-1.8 l1.5,1.8" stroke="#000" fill="none" stroke-width="1"/>
<path d="M423.5,316.5 h3.5 M429,316.5 h3.5 M434,316.5 h3.5 M439,316.5 h3.5" stroke="#000" stroke-width="1.2"/>
<rect x="420.5" y="324.0" width="14" height="7.5" fill="#fff" stroke="#000" stroke-width="1.2" />
<path d="M423.75,323.5 v8.5 M427.5,323.5 v8.5 M431.25,323.5 v8.5 M420,326.3333333333333 h15 M420,329.1666666666667 h15 " stroke="#000" stroke-width="1.2"/>
<path d="M428.5,332 v2.5 h6" stroke="#f00" stroke-width="1.1" fill="none"/><path d="M433.5,332.500 l3,2 l-3,2 z" fill="#f00"/>
<path d="M438.5,325.5 h4.5 l3,3 v6 h-7.5 z" fill="#f2f040" stroke="#000" stroke-width="1.2"/><path d="M443,325.5 v3 h3" fill="none" stroke="#000" stroke-width=".8"/>
<rect x="376" y="338" width="29" height="17" fill="#fff" stroke="#ff00ff" stroke-width="2" />
<rect x="374" y="337" width="4" height="19" fill="#ff00ff" stroke="none" stroke-width="1" />
<text x="380.2" y="351" font-family="'Liberation Sans', sans-serif" font-size="12.3" font-weight="normal" fill="#111" text-anchor="start" textLength="21.8" lengthAdjust="spacingAndGlyphs" >%.4f</text>
<rect x="375" y="360.2" width="14" height="11.6" fill="#fff" stroke="#008000" stroke-width="2" />
<text x="379.6" y="368.8" font-family="'Liberation Sans', sans-serif" font-size="7.5" font-weight="bold" fill="#008000" text-anchor="start" textLength="5" lengthAdjust="spacingAndGlyphs" >F</text>
<rect x="479.5" y="384.5" width="31" height="31" fill="#fff" stroke="#000" stroke-width="1" />
<path d="M483.5,394 L489,389 L495,396.5 M494,389 L488,395.5" stroke="#000" stroke-width="1" fill="none"/>
<path d="M487,388.8 L489,386.0 L491,388.8 L489,391.6 Z" fill="#f0f000" stroke="#111" stroke-width="1" stroke-dasharray="1 1"/>
<path d="M492.2,388.8 L494.2,386.0 L496.2,388.8 L494.2,391.6 Z" fill="#ff00ff" stroke="#111" stroke-width="1" stroke-dasharray="1 1"/>
<path d="M481.2,394.6 L483.3,391.6 L485.40000000000003,394.6 L483.3,397.6 Z" fill="#ff00ff" stroke="#111" stroke-width="1" stroke-dasharray="1 1"/>
<path d="M486,394 l1.500,-1 l1.500,1.500 l1.500,-1 l1.500,1.500 l0,1.600 l-1.500,-1.200 l-1.500,1 l-1.500,-1.500 l-1.500,.6 z" fill="#00c800" stroke="#063" stroke-width=".4"/>
<path d="M492,396 l1.500,-1 l1.500,1.500 l1.500,-1 l1.500,1.500 l0,1.600 l-1.500,-1.200 l-1.500,1 l-1.500,-1.500 l-1.500,.6 z" fill="#00e0f0" stroke="#055" stroke-width=".4"/>
<path d="M499,391.5 h4.5 v5" fill="none" stroke="#000" stroke-width="1.1"/><path d="M501,395.5 h5 l-2.5,3 z" fill="#000"/>
<g shape-rendering="crispEdges">
<rect x="495" y="400" width="13" height="13" fill="#868686" stroke="none" stroke-width="1" />
<rect x="507" y="400" width="1" height="13" fill="#3c3c3c" stroke="none" stroke-width="1" />
<rect x="495" y="412" width="13" height="1" fill="#3c3c3c" stroke="none" stroke-width="1" />
<rect x="496" y="401" width="11" height="11" fill="#b4b4b4" stroke="none" stroke-width="1" />
<rect x="496" y="401" width="11" height="2" fill="#0000ff" stroke="none" stroke-width="1" />
<path d="M496,404h2v1h-2zM499,404h2v1h-2zM502,404h2v1h-2zM505,404h2v1h-2zM496,406h2v1h-2zM499,406h2v1h-2zM502,406h2v1h-2zM505,406h2v1h-2zM496,408h2v1h-2zM499,408h2v1h-2zM502,408h2v1h-2zM505,408h2v1h-2zM496,410h2v1h-2zM499,410h2v1h-2zM502,410h2v1h-2zM505,410h2v1h-2z" fill="#fff"/>
</g>
<rect x="404" y="419" width="30" height="14" fill="#fff" stroke="#ff00ff" stroke-width="2" />
<rect x="406.5" y="421.5" width="25" height="9" fill="#fff" stroke="#ff00ff" stroke-width="1" />
<rect x="425" y="420" width="7.5" height="12" fill="#ffb0ff" opacity=".8"/>
<text x="410.5" y="429.2" font-family="'Liberation Serif', serif" font-size="9.5" font-weight="bold" fill="#ff00ff" text-anchor="start" textLength="16.5" lengthAdjust="spacingAndGlyphs" >abc</text>
<path d="M430,423.300 L433,426.300 L430,429.300 Z" fill="#000"/>
<rect x="516" y="473" width="33" height="17" fill="#fff" stroke="#ff00ff" stroke-width="2" />
<rect x="514" y="472" width="4" height="19" fill="#ff00ff" stroke="none" stroke-width="1" />
<text x="519.6" y="486.1" font-family="'Liberation Sans', sans-serif" font-size="12.3" font-weight="normal" fill="#111" text-anchor="start" textLength="25.4" lengthAdjust="spacingAndGlyphs" >Main</text>
<rect x="647.5" y="434.5" width="31" height="31" fill="#fff" stroke="#000" stroke-width="1" />
<path d="M653.5,439.5 L659,445 L653.5,450.5 Z" fill="#0000ff" stroke="#000" stroke-width="1"/>
<g shape-rendering="crispEdges">
<rect x="663" y="450" width="13" height="13" fill="#868686" stroke="none" stroke-width="1" />
<rect x="675" y="450" width="1" height="13" fill="#3c3c3c" stroke="none" stroke-width="1" />
<rect x="663" y="462" width="13" height="1" fill="#3c3c3c" stroke="none" stroke-width="1" />
<rect x="664" y="451" width="11" height="11" fill="#b4b4b4" stroke="none" stroke-width="1" />
<rect x="664" y="451" width="11" height="2" fill="#0000ff" stroke="none" stroke-width="1" />
<path d="M664,454h2v1h-2zM667,454h2v1h-2zM670,454h2v1h-2zM673,454h2v1h-2zM664,456h2v1h-2zM667,456h2v1h-2zM670,456h2v1h-2zM673,456h2v1h-2zM664,458h2v1h-2zM667,458h2v1h-2zM670,458h2v1h-2zM673,458h2v1h-2zM664,460h2v1h-2zM667,460h2v1h-2zM670,460h2v1h-2zM673,460h2v1h-2z" fill="#fff"/>
</g>
<rect x="725.5" y="330.5" width="31" height="31" fill="#fff" stroke="#000" stroke-width="1" />
<path d="M729.5,340 L735,335 L741,342.5 M740,335 L734,341.5" stroke="#000" stroke-width="1" fill="none"/>
<path d="M733,334.8 L735,332.0 L737,334.8 L735,337.6 Z" fill="#f0f000" stroke="#111" stroke-width="1" stroke-dasharray="1 1"/>
<path d="M738.2,334.8 L740.2,332.0 L742.2,334.8 L740.2,337.6 Z" fill="#ff00ff" stroke="#111" stroke-width="1" stroke-dasharray="1 1"/>
<path d="M727.1999999999999,340.6 L729.3,337.6 L731.4,340.6 L729.3,343.6 Z" fill="#ff00ff" stroke="#111" stroke-width="1" stroke-dasharray="1 1"/>
<path d="M732,340 l1.500,-1 l1.500,1.500 l1.500,-1 l1.500,1.500 l0,1.600 l-1.500,-1.200 l-1.500,1 l-1.500,-1.500 l-1.500,.6 z" fill="#00c800" stroke="#063" stroke-width=".4"/>
<path d="M738,342 l1.500,-1 l1.500,1.500 l1.500,-1 l1.500,1.500 l0,1.600 l-1.500,-1.200 l-1.500,1 l-1.500,-1.500 l-1.500,.6 z" fill="#00e0f0" stroke="#055" stroke-width=".4"/>
<path d="M745.5,335.5 h8.5 M747.5,335 q2,-2.5 4.500,0 M746.5,336.5 l.5,8 h5.500 l.5,-8" fill="none" stroke="#000" stroke-width="1.2"/><path d="M748.5,338 v5 M751,338 v5" stroke="#000" stroke-width="1"/>
<g shape-rendering="crispEdges">
<rect x="741" y="346" width="13" height="13" fill="#868686" stroke="none" stroke-width="1" />
<rect x="753" y="346" width="1" height="13" fill="#3c3c3c" stroke="none" stroke-width="1" />
<rect x="741" y="358" width="13" height="1" fill="#3c3c3c" stroke="none" stroke-width="1" />
<rect x="742" y="347" width="11" height="11" fill="#b4b4b4" stroke="none" stroke-width="1" />
<rect x="742" y="347" width="11" height="2" fill="#0000ff" stroke="none" stroke-width="1" />
<path d="M742,350h2v1h-2zM745,350h2v1h-2zM748,350h2v1h-2zM751,350h2v1h-2zM742,352h2v1h-2zM745,352h2v1h-2zM748,352h2v1h-2zM751,352h2v1h-2zM742,354h2v1h-2zM745,354h2v1h-2zM748,354h2v1h-2zM751,354h2v1h-2zM742,356h2v1h-2zM745,356h2v1h-2zM748,356h2v1h-2zM751,356h2v1h-2z" fill="#fff"/>
</g>
<rect x="565.5" y="278.5" width="31" height="15" fill="#fff" stroke="#a0410d" stroke-width="1" />
<rect x="568.5" y="281.5" width="25" height="9" fill="#fff" stroke="#a0410d" stroke-width="1" />
<rect x="566" y="280" width="8.5" height="12" fill="#e4c2b0" opacity=".8"/>
<path d="M569,283 L572,286 L569,289 Z" fill="#000"/>
<path d="M575.5,284.5 h3.5 v2 h-3.5 z M576,288.5 h3 M581.5,284.5 h1.5 v4 h-1.5 z M585.5,284 h2.5 M585.5,286.5 h2.5 v2 h-2.5 z" fill="none" stroke="#a0410d" stroke-width="1"/>
<rect x="653.5" y="312.5" width="31" height="15" fill="#fff" stroke="#a0410d" stroke-width="1" />
<rect x="656.5" y="315.5" width="25" height="9" fill="#fff" stroke="#a0410d" stroke-width="1" />
<rect x="654" y="314" width="8.5" height="12" fill="#e4c2b0" opacity=".8"/>
<path d="M657,317 L660,320 L657,323 Z" fill="#000"/>
<path d="M663.5,318.5 h3.5 v2 h-3.5 z M664,322.5 h3 M669.5,318.5 h1.5 v4 h-1.5 z M673.5,318 h2.5 M673.5,320.5 h2.5 v2 h-2.5 z" fill="none" stroke="#a0410d" stroke-width="1"/>
<rect x="813.5" y="359.5" width="31" height="15" fill="#fff" stroke="#0a8585" stroke-width="1" />
<rect x="816.5" y="362.5" width="25" height="9" fill="#fff" stroke="#0a8585" stroke-width="1" />
<rect x="814" y="361" width="9" height="12" fill="#a8d4d4" opacity=".85"/>
<path d="M813,359 h8.5 l-8.5,8.5 z" fill="#000"/>
<path d="M812.8,363.800 L816.3,367.300 L812.8,370.800 z" fill="#f00"/>
<path d="M817,364.200 L820.2,367.300 L817,370.400 Z" fill="#000"/>
<text x="821.6" y="369.9" font-family="'Liberation Sans', sans-serif" font-size="7.6" font-weight="bold" fill="#0a7878" text-anchor="start" textLength="15.6" lengthAdjust="spacingAndGlyphs" >OBJ</text>
<rect x="792.5" y="404.5" width="31" height="15" fill="#fff" stroke="#808000" stroke-width="1" />
<rect x="795.5" y="407.5" width="25" height="9" fill="#fff" stroke="#808000" stroke-width="1" />
<rect x="793" y="406" width="9" height="12" fill="#d2d2a0" opacity=".85"/>
<path d="M796,409 L799,412 L796,415 Z" fill="#000"/>
<path d="M802,409 h4 v1.800 h-4 z M813.500,412.500 h2.500 v2.500 h-2.500 z" stroke="#808000" stroke-width="1" fill="none"/>
<path d="M808,409 h3 v1 h-3 z M813,408 h2 v2 h-2 z M800,413 h3 v2 h-3 z M806,412.500 h4 v2.800 h-4 z" fill="#808000"/>
<rect x="159" y="454" width="50" height="17" fill="#fff" stroke="#0000ff" stroke-width="2" />
<path d="M164.2,459.6 L161.3,462.3 L164.2,465 Z M165.2,459.6 L168,462.3 L165.2,465 Z" fill="#0000ff"/>
<text x="169.3" y="466.8" font-family="'Liberation Sans', sans-serif" font-size="12.3" font-weight="normal" fill="#111" text-anchor="start" textLength="26.6" lengthAdjust="spacingAndGlyphs" >Excel</text>
<path d="M200.2,459.8 h6.8 l-3.4,4.2 z" fill="#0000ff"/>
<rect x="135" y="505" width="30" height="14" fill="#fff" stroke="#0a8585" stroke-width="2" />
<rect x="137.5" y="507.5" width="25" height="9" fill="#fff" stroke="#0a8585" stroke-width="1" />
<rect x="156.5" y="506" width="8" height="12" fill="#9cc8c8" opacity=".8"/>
<path d="M144.5,509.500 h1.800 v1.800 h-1.800 z M154.800,512.800 h1.800 v1.800 h-1.800 z" fill="#fff" stroke="#0a8585" stroke-width=".9"/>
<path d="M147,511 h2 M149.500,512 h2 M152,513.500 h2.500" stroke="#0a8585" stroke-width=".9"/>
<path d="M161,508.800 L164.2,512 L161,515.200 Z" fill="#000"/>
<rect x="257.5" y="446.5" width="31" height="31" fill="#fff" stroke="#000" stroke-width="1" />
<rect x="258" y="447" width="30" height="13.5" fill="#1ec3ef" stroke="none" stroke-width="1" />
<polyline points="257,460.5 289,460.5" fill="none" stroke="#000" stroke-width="1" />
<path d="M260.5,449.5 H282.0 L285.0,452.5 V458.5 H260.5 Z" fill="#fbf6c4" stroke="#000" stroke-width="1"/>
<path d="M282.0,449.5 V452.5 H285.0" fill="#fff" stroke="#000" stroke-width=".8"/>
<path d="M264,453.5 h3 l1.5,-1.5 l1.5,1.5 h2 l1.5,-1.5 l1.5,1.5 h2 l1,-1.500 l1,1.500 M263,456.5 h3.5 M268,456.5 h3.5 M273,456.5 h3.5 M278,456.5 h3.5" stroke="#000" fill="none" stroke-width="1"/>
<path d="M268.5,464.5 h4 l3,3 v6 h-7 z" fill="#ffff00" stroke="#000" stroke-width="1.1"/>
<path d="M278,466.5 l2.500,-2.500 M278.500,471 l2.500,2.500 M279.500,468.800 h0" stroke="#000" stroke-width=".9"/>
<path d="M257.5,446.5 L288.5,477.5 M288.5,446.5 L257.5,477.5" stroke="#ff0000" stroke-width="2.2"/>
<rect x="1108" y="499" width="36" height="36" fill="#fff" stroke="#008000" stroke-width="2" />
<rect x="1110.5" y="501.5" width="31" height="31" fill="#dcdcdc" stroke="#008000" stroke-width="1" />
<rect x="1112.5" y="510.5" width="27" height="14" fill="#c8c8c8" stroke="#909090" stroke-width="1" />
<rect x="1114" y="512" width="24" height="11" fill="#d8d8d8" stroke="#b8b8b8" stroke-width="1" />
<text x="1116.8" y="520.3" font-family="'Liberation Sans', sans-serif" font-size="6.6" font-weight="bold" fill="#e00010" text-anchor="start" textLength="20.6" lengthAdjust="spacingAndGlyphs" >STOP</text>
<path d="M1140.500,513.500 L1144,517.500 L1140.500,521.500 Z" fill="#fff" stroke="#000" stroke-width="1"/>
<rect x="1118.5" y="527.5" width="15" height="8" fill="#fff" stroke="#008000" stroke-width="1" />
<text x="1121.3" y="533.8" font-family="'Liberation Sans', sans-serif" font-size="6.4" font-weight="bold" fill="#008000" text-anchor="start" textLength="9.6" lengthAdjust="spacingAndGlyphs" >TF</text>
<rect x="1155.5" y="529.5" width="15" height="15" fill="#ffffd0" stroke="#008000" stroke-width="1" />
<circle cx="1163" cy="537" r="5.700" fill="#ffffd0" stroke="#000" stroke-width="1.1"/><circle cx="1163" cy="537" r="4" fill="#ff0000"/>
<rect x="31" y="536" width="14" height="14" fill="#ffffcc" stroke="#0000ff" stroke-width="2" />
<text x="37.9" y="547.8" font-family="'Liberation Sans', sans-serif" font-size="12" font-weight="bold" fill="#0000ff" text-anchor="middle" >i</text>
<text x="242.1" y="49.05" font-family="'Liberation Sans', sans-serif" font-size="12.3" font-weight="normal" fill="#111" text-anchor="start" textLength="52.2" lengthAdjust="spacingAndGlyphs" >Discharge</text>
<text x="242.0" y="119.05" font-family="'Liberation Sans', sans-serif" font-size="12.3" font-weight="normal" fill="#111" text-anchor="start" textLength="79.2" lengthAdjust="spacingAndGlyphs" >PSI - Discharge</text>
<text x="242.0" y="189.05" font-family="'Liberation Sans', sans-serif" font-size="12.3" font-weight="normal" fill="#111" text-anchor="start" textLength="53.8" lengthAdjust="spacingAndGlyphs" >PSI - Delta</text>
<text x="242.1" y="259.05" font-family="'Liberation Sans', sans-serif" font-size="12.3" font-weight="normal" fill="#111" text-anchor="start" textLength="26.3" lengthAdjust="spacingAndGlyphs" >Delta</text>
<text x="299.2" y="236.85" font-family="'Liberation Sans', sans-serif" font-size="12.3" font-weight="normal" fill="#111" text-anchor="start" textLength="112.3" lengthAdjust="spacingAndGlyphs" >MS Office parameters</text>
<text x="77.8" y="355.95" font-family="'Liberation Sans', sans-serif" font-size="12.3" font-weight="normal" fill="#111" text-anchor="start" textLength="75.1" lengthAdjust="spacingAndGlyphs" >DAQ Assistant</text>
<text x="480.1" y="379.9" font-family="'Liberation Sans', sans-serif" font-size="12.3" font-weight="normal" fill="#111" text-anchor="start" textLength="121.8" lengthAdjust="spacingAndGlyphs" >Excel Import Module.vi</text>
<text x="566.1" y="273.9" font-family="'Liberation Sans', sans-serif" font-size="12.3" font-weight="normal" fill="#111" text-anchor="start" textLength="110.5" lengthAdjust="spacingAndGlyphs" >range (wd) - start (xl)</text>
<text x="654.1" y="308.0" font-family="'Liberation Sans', sans-serif" font-size="12.3" font-weight="normal" fill="#111" text-anchor="start" textLength="39.7" lengthAdjust="spacingAndGlyphs" >end (xl)</text>
<text x="813.9" y="354.8" font-family="'Liberation Sans', sans-serif" font-size="12.3" font-weight="normal" fill="#111" text-anchor="start" textLength="53.3" lengthAdjust="spacingAndGlyphs" >report out</text>
<text x="792.7" y="399.7" font-family="'Liberation Sans', sans-serif" font-size="12.3" font-weight="normal" fill="#111" text-anchor="start" textLength="46.3" lengthAdjust="spacingAndGlyphs" >error out</text>
<text x="329.1" y="429.8" font-family="'Liberation Sans', sans-serif" font-size="12.3" font-weight="normal" fill="#111" text-anchor="start" textLength="71.8" lengthAdjust="spacingAndGlyphs" >Module Code</text>
<text x="159.2" y="448.9" font-family="'Liberation Sans', sans-serif" font-size="12.3" font-weight="normal" fill="#111" text-anchor="start" textLength="63.1" lengthAdjust="spacingAndGlyphs" >Report Type</text>
<text x="135.25" y="499.4" font-family="'Liberation Sans', sans-serif" font-size="12.3" font-weight="normal" fill="#111" text-anchor="start" textLength="87.01" lengthAdjust="spacingAndGlyphs" >Report Template</text>
<text x="1107.6" y="493.75" font-family="'Liberation Sans', sans-serif" font-size="12.3" font-weight="normal" fill="#111" text-anchor="start" textLength="23.0" lengthAdjust="spacingAndGlyphs" >stop</text>
</svg>
</body></html>
